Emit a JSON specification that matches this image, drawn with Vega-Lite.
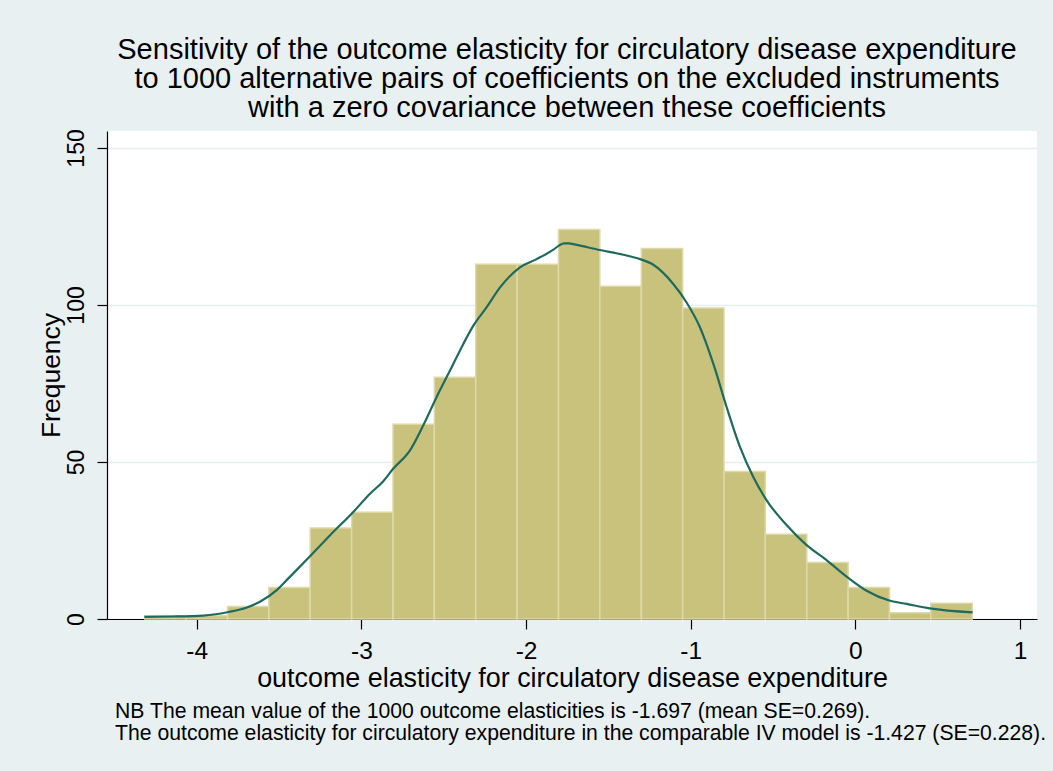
{
  "$schema": "https://vega.github.io/schema/vega-lite/v6.json",
  "width": 930,
  "height": 488,
  "autosize": {"type": "none"},
  "padding": {"left": 107, "top": 131, "right": 16, "bottom": 152},
  "background": "#E9F0F2",
  "config": {
    "view": {"fill": "white", "stroke": null},
    "font": "Liberation Sans",
    "axis": {
      "labelFont": "Liberation Sans",
      "titleFont": "Liberation Sans",
      "labelColor": "black",
      "titleColor": "black",
      "titleFontWeight": "normal",
      "domainColor": "black",
      "domainWidth": 1.2,
      "tickColor": "black",
      "tickWidth": 1.2,
      "tickSize": 10
    }
  },
  "title": {
    "text": [
      "Sensitivity of the outcome elasticity for circulatory disease expenditure",
      "to 1000 alternative pairs of coefficients on the excluded instruments",
      "with a zero covariance between these coefficients"
    ],
    "fontSize": 29,
    "lineHeight": 29,
    "font": "Liberation Sans",
    "fontWeight": "normal",
    "color": "black",
    "anchor": "middle",
    "offset": 6,
    "dx": -5
  },
  "datasets": {
    "bins": [
      {"bin_start": -4.316, "bin_end": -4.065, "count": 1},
      {"bin_start": -4.065, "bin_end": -3.813, "count": 1},
      {"bin_start": -3.813, "bin_end": -3.562, "count": 4},
      {"bin_start": -3.562, "bin_end": -3.311, "count": 10},
      {"bin_start": -3.311, "bin_end": -3.059, "count": 29},
      {"bin_start": -3.059, "bin_end": -2.808, "count": 34},
      {"bin_start": -2.808, "bin_end": -2.557, "count": 62},
      {"bin_start": -2.557, "bin_end": -2.306, "count": 77},
      {"bin_start": -2.306, "bin_end": -2.054, "count": 113},
      {"bin_start": -2.054, "bin_end": -1.803, "count": 113},
      {"bin_start": -1.803, "bin_end": -1.552, "count": 124},
      {"bin_start": -1.552, "bin_end": -1.300, "count": 106},
      {"bin_start": -1.300, "bin_end": -1.049, "count": 118},
      {"bin_start": -1.049, "bin_end": -0.798, "count": 99},
      {"bin_start": -0.798, "bin_end": -0.547, "count": 47},
      {"bin_start": -0.547, "bin_end": -0.295, "count": 27},
      {"bin_start": -0.295, "bin_end": -0.044, "count": 18},
      {"bin_start": -0.044, "bin_end": 0.207, "count": 10},
      {"bin_start": 0.207, "bin_end": 0.458, "count": 2},
      {"bin_start": 0.458, "bin_end": 0.710, "count": 5}
    ],
    "density": [
      {"x": -4.318, "f": 0.7}, {"x": -4.15, "f": 0.8}, {"x": -3.96, "f": 1.1},
      {"x": -3.80, "f": 2.3}, {"x": -3.70, "f": 3.6}, {"x": -3.616, "f": 5.5},
      {"x": -3.514, "f": 9.2}, {"x": -3.433, "f": 13.5}, {"x": -3.312, "f": 20},
      {"x": -3.190, "f": 26.7}, {"x": -3.049, "f": 34.1}, {"x": -2.948, "f": 39.9},
      {"x": -2.867, "f": 43.9}, {"x": -2.806, "f": 47.9}, {"x": -2.705, "f": 53.7},
      {"x": -2.624, "f": 61.7}, {"x": -2.543, "f": 70.7}, {"x": -2.462, "f": 79.1},
      {"x": -2.381, "f": 87.6}, {"x": -2.320, "f": 93.4}, {"x": -2.239, "f": 99.3},
      {"x": -2.158, "f": 105.6}, {"x": -2.037, "f": 112}, {"x": -1.936, "f": 114.6},
      {"x": -1.834, "f": 117.6}, {"x": -1.80, "f": 118.9}, {"x": -1.77, "f": 119.6},
      {"x": -1.74, "f": 119.6}, {"x": -1.70, "f": 119.2},
      {"x": -1.551, "f": 117.5}, {"x": -1.409, "f": 116}, {"x": -1.308, "f": 114.6},
      {"x": -1.227, "f": 112.8}, {"x": -1.106, "f": 106.7}, {"x": -1.025, "f": 100.8},
      {"x": -0.944, "f": 92.9}, {"x": -0.863, "f": 81.3}, {"x": -0.782, "f": 67.5},
      {"x": -0.701, "f": 54.8}, {"x": -0.620, "f": 45.2}, {"x": -0.539, "f": 37.8},
      {"x": -0.418, "f": 29.9}, {"x": -0.296, "f": 23.5}, {"x": -0.175, "f": 18.75},
      {"x": -0.053, "f": 13.5}, {"x": 0.068, "f": 9.0}, {"x": 0.210, "f": 5.8},
      {"x": 0.311, "f": 4.8}, {"x": 0.452, "f": 3.4}, {"x": 0.712, "f": 2.1}
    ],
    "notes": [
      {"note": "NB The mean value of the 1000 outcome elasticities is -1.697 (mean SE=0.269).\nThe outcome elasticity for circulatory expenditure in the comparable IV model is -1.427 (SE=0.228)."}
    ]
  },
  "layer": [
    {
      "data": {"name": "bins"},
      "mark": {"type": "bar", "fill": "#C9C27D", "stroke": "#DDD9A8", "strokeWidth": 1.5},
      "encoding": {
        "x": {
          "field": "bin_start",
          "type": "quantitative",
          "scale": {"domain": [-4.545, 1.103], "nice": false, "zero": false},
          "axis": {
            "values": [-4, -3, -2, -1, 0, 1],
            "labelExpr": "'' + datum.value",
            "grid": false,
            "title": "outcome elasticity for circulatory disease expenditure",
            "titleFontSize": 26.9,
            "titleBaseline": "alphabetic",
            "titleY": 67,
            "labelFontSize": 24.5,
            "labelBaseline": "alphabetic",
            "labelPadding": 29,
            "labelFlush": false
          }
        },
        "x2": {"field": "bin_end"},
        "y": {
          "field": "count",
          "type": "quantitative",
          "scale": {"domain": [0, 155.4], "nice": false},
          "axis": {
            "values": [0, 50, 100, 150],
            "grid": true,
            "gridColor": "#E6EEF0",
            "gridWidth": 1.5,
            "title": "Frequency",
            "titleFontSize": 26.5,
            "titleAngle": -90,
            "titleBaseline": "alphabetic",
            "titleAlign": "center",
            "titleX": -48,
            "titleY": 244,
            "labelFontSize": 23,
            "labelAngle": -90,
            "labelAlign": "center",
            "labelBaseline": "alphabetic",
            "labelPadding": 14,
            "labelFlush": false
          }
        },
        "y2": {"datum": 0}
      }
    },
    {
      "data": {"name": "density"},
      "mark": {"type": "line", "color": "#1E6B5E", "strokeWidth": 2.2, "interpolate": "monotone"},
      "encoding": {
        "x": {"field": "x", "type": "quantitative"},
        "y": {"field": "f", "type": "quantitative"}
      }
    },
    {
      "data": {"name": "notes"},
      "mark": {"type": "text", "align": "left", "baseline": "alphabetic", "lineBreak": "\n", "fontSize": 21.2, "lineHeight": 22, "font": "Liberation Sans", "color": "black"},
      "encoding": {
        "x": {"datum": -4.496},
        "y": {"datum": -31.5},
        "text": {"field": "note"}
      }
    }
  ]
}
